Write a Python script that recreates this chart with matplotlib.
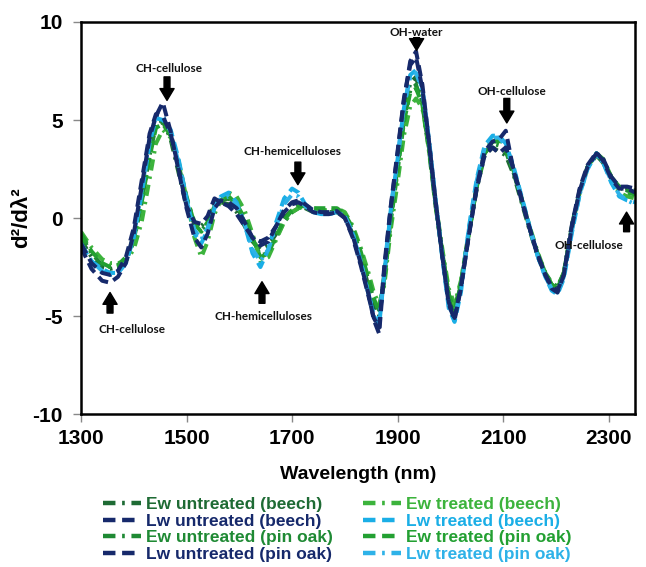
import matplotlib
matplotlib.use('Agg')
import matplotlib.pyplot as plt
from matplotlib.lines import Line2D

# wavelength grid (nm) shared by all spectra
wavelength = [1300, 1320, 1340, 1355, 1370, 1385, 1400, 1415, 1430, 1442,
              1455, 1470, 1485, 1500, 1515, 1528, 1540, 1553, 1565, 1580,
              1595, 1610, 1625, 1640, 1655, 1670, 1685, 1700, 1712, 1725,
              1740, 1755, 1770, 1785, 1800, 1815, 1830, 1845, 1855, 1865,
              1875, 1887, 1900, 1912, 1924, 1935, 1947, 1960, 1972, 1985,
              1997, 2008, 2020, 2035, 2050, 2065, 2080, 2092, 2105, 2120,
              2135, 2150, 2165, 2180, 2192, 2203, 2215, 2230, 2245, 2260,
              2277, 2290, 2305, 2320, 2335, 2350]

ew_untreated_beech = [
    -1.1, -2.0, -2.5, -2.6, -2.5, -2.1, -0.9, 1.2, 3.6, 4.9,
    5.0, 4.0, 2.3, 0.6, -0.3, -0.4, -0.1, 0.8, 0.8, 0.7,
    0.3, -0.4, -1.2, -1.6, -1.4, -0.8, 0.0, 0.4, 0.6, 0.5,
    0.3, 0.3, 0.3, 0.3, 0.0, -0.8, -2.0, -3.5, -4.5, -5.0,
    -2.8, 0.2, 2.8, 5.3, 6.9, 7.2, 5.9, 3.4, 0.6, -1.9,
    -4.1, -4.9, -3.4, -0.8, 1.5, 3.2, 3.6, 3.4, 3.2, 2.2,
    0.8, -0.6, -1.9, -2.9, -3.4, -3.6, -2.8, -0.4, 1.4, 2.6,
    3.2, 2.8, 2.0, 1.5, 1.5, 1.4]
lw_untreated_beech = [
    -1.5, -2.6, -3.2, -3.3, -3.0, -2.3, -0.8, 1.6, 4.1, 5.2,
    5.9, 4.4, 2.4, 0.5, -1.0, -1.5, -0.8, 0.5, 0.9, 0.8,
    0.5, -0.2, -1.0, -1.4, -1.2, -0.4, 0.4, 0.8, 0.9, 0.7,
    0.4, 0.3, 0.3, 0.35, 0.0, -0.9, -2.3, -3.9, -5.2, -5.9,
    -2.6, 0.5, 3.3, 6.0, 8.0, 8.5, 6.8, 3.8, 0.9, -2.0,
    -4.4, -5.2, -3.6, -0.9, 1.6, 3.4, 3.9, 4.0, 4.45, 2.4,
    0.9, -0.5, -1.8, -2.9, -3.6, -3.8, -2.9, -0.4, 1.5, 2.7,
    3.35, 2.9, 2.0, 1.5, 1.5, 1.3]
ew_untreated_pinoak = [
    -0.9, -1.8, -2.4, -2.5, -2.5, -2.2, -1.2, 0.8, 3.2, 4.7,
    4.9, 4.2, 2.7, 1.0, -0.2, -0.6, -0.3, 0.7, 0.9, 1.0,
    0.6, -0.2, -1.1, -1.9, -1.8, -1.0, -0.2, 0.3, 0.5, 0.6,
    0.5, 0.4, 0.4, 0.4, 0.1, -0.6, -1.8, -3.2, -4.2, -4.7,
    -3.0, 0.0, 2.6, 5.0, 6.5, 6.8, 5.8, 3.3, 0.6, -1.8,
    -3.9, -4.6, -3.3, -0.7, 1.6, 3.3, 3.8, 3.7, 3.4, 2.3,
    0.9, -0.5, -1.8, -2.8, -3.3, -3.5, -2.8, -0.5, 1.3, 2.6,
    3.2, 2.9, 2.1, 1.6, 1.4, 1.3]
lw_untreated_pinoak = [
    -1.3, -2.3, -2.8, -2.9, -2.7, -2.0, -0.5, 1.9, 4.3, 5.3,
    5.2, 4.3, 2.5, 0.6, -0.2, -0.3, 0.1, 1.0, 0.8, 0.6,
    0.2, -0.4, -1.0, -1.2, -1.0, -0.4, 0.3, 0.7, 0.8, 0.6,
    0.3, 0.2, 0.2, 0.3, 0.0, -1.0, -2.4, -4.0, -5.1, -5.6,
    -2.4, 0.6, 3.4, 6.1, 7.8, 8.2, 6.6, 3.7, 0.8, -2.0,
    -4.3, -5.1, -3.5, -0.9, 1.5, 3.2, 3.6, 3.3, 3.6, 2.5,
    1.0, -0.5, -1.9, -2.9, -3.5, -3.7, -2.9, -0.5, 1.4, 2.6,
    3.3, 3.0, 2.1, 1.6, 1.6, 1.5]
ew_treated_beech = [
    -0.7, -1.5, -2.1, -2.3, -2.3, -2.2, -1.6, -0.2, 2.0, 3.8,
    4.5, 4.1, 2.9, 1.0, -1.0, -2.0, -1.2, 0.2, 0.9, 1.3,
    1.1, 0.4, -0.8, -2.2, -2.0, -1.1, -0.2, 0.3, 0.5, 0.6,
    0.5, 0.4, 0.4, 0.5, 0.3, -0.4, -1.5, -2.8, -3.8, -4.4,
    -3.4, -0.6, 1.8, 4.2, 5.7, 6.1, 5.6, 3.5, 0.8, -1.6,
    -3.6, -4.4, -3.2, -0.8, 1.6, 3.4, 4.0, 4.1, 3.6, 2.5,
    1.0, -0.4, -1.7, -2.8, -3.4, -3.6, -2.8, -0.6, 1.3, 2.6,
    3.3, 2.9, 2.0, 1.3, 1.1, 1.0]
lw_treated_beech = [
    -1.4, -2.2, -2.6, -2.8, -2.8, -2.3, -1.0, 1.2, 3.8, 5.1,
    5.0, 4.5, 3.0, 1.0, -0.8, -1.3, -0.6, 0.5, 1.1, 1.3,
    0.8, -0.3, -1.8, -2.5, -1.6, -0.2, 1.0, 1.5, 1.3, 0.7,
    0.3, 0.2, 0.2, 0.3, 0.1, -0.8, -2.2, -3.9, -5.0, -5.5,
    -2.8, 0.4, 3.0, 5.6, 7.3, 7.55, 6.6, 3.9, 0.9, -2.1,
    -4.6, -5.3, -3.8, -0.5, 2.0, 3.7, 4.2, 4.2, 3.8, 2.6,
    1.1, -0.4, -1.9, -3.0, -3.7, -3.9, -3.1, -0.8, 1.2, 2.5,
    3.3, 2.8, 1.8, 1.1, 0.9, 0.8]
ew_treated_pinoak = [
    -0.8, -1.7, -2.3, -2.5, -2.4, -2.0, -1.1, 0.8, 3.1, 4.6,
    4.8, 4.2, 2.8, 1.1, -0.3, -0.7, -0.2, 0.6, 1.0, 1.1,
    0.7, 0.0, -1.0, -2.0, -1.8, -0.9, -0.1, 0.4, 0.6, 0.6,
    0.5, 0.5, 0.5, 0.5, 0.2, -0.5, -1.7, -3.1, -4.1, -4.8,
    -3.2, -0.2, 2.4, 4.9, 6.4, 6.6, 5.8, 3.5, 0.7, -1.8,
    -3.9, -4.7, -3.4, -0.8, 1.6, 3.3, 3.9, 3.9, 3.5, 2.4,
    1.0, -0.5, -1.8, -2.8, -3.4, -3.6, -2.8, -0.5, 1.3, 2.6,
    3.3, 3.0, 2.1, 1.6, 1.3, 1.2]
lw_treated_pinoak = [
    -1.3, -2.2, -2.7, -2.9, -2.8, -2.3, -0.9, 1.4, 4.0, 5.2,
    5.2, 4.4, 2.8, 0.9, -0.6, -1.1, -0.5, 0.6, 1.0, 1.1,
    0.7, -0.3, -1.6, -2.2, -1.6, -0.4, 0.7, 1.2, 1.1, 0.6,
    0.3, 0.2, 0.2, 0.3, 0.1, -0.8, -2.2, -3.9, -4.9, -5.3,
    -2.6, 0.5, 3.1, 5.7, 7.2, 7.4, 6.5, 3.8, 0.9, -2.0,
    -4.5, -5.1, -3.6, -0.6, 1.9, 3.6, 4.1, 4.1, 3.7, 2.5,
    1.0, -0.5, -1.9, -3.0, -3.6, -3.8, -3.0, -0.7, 1.2, 2.5,
    3.3, 2.8, 1.9, 1.2, 0.9, 0.7]

labels = ['Ew untreated (beech)', 'Lw untreated (beech)',
          'Ew untreated (pin oak)', 'Lw untreated (pin oak)',
          'Ew treated (beech)', 'Lw treated (beech)',
          'Ew treated (pin oak)', 'Lw treated (pin oak)']
spectra = [ew_untreated_beech, lw_untreated_beech,
           ew_untreated_pinoak, lw_untreated_pinoak,
           ew_treated_beech, lw_treated_beech,
           ew_treated_pinoak, lw_treated_pinoak]
colors = ['#1e6b34', '#16296b', '#1f8a34', '#16296b',
          '#3cb33c', '#1aaee6', '#23a032', '#2eb2e8']
DASH = (0, (2.8, 1.5))
DASHDOT = (0, (2.8, 1.5, 0.6, 1.5))
styles = [DASHDOT, DASH, DASHDOT, DASH, DASHDOT, DASH, DASH, DASHDOT]
draw_order = [0, 2, 4, 6, 5, 7, 3, 1]

# band annotations: (text, arrow x, tail y, tip y, label x, label y)
bands = [
    ('CH-cellulose', 1463, 7.2, 6.0, 1467, 7.65),
    ('OH-water', 1936, 9.2, 8.55, 1936, 9.45),
    ('OH-cellulose', 2107, 6.1, 4.85, 2117, 6.45),
    ('CH-hemicelluloses', 1711, 2.85, 1.7, 1700, 3.4),
    ('CH-hemicelluloses', 1643, -4.35, -3.25, 1645, -5.05),
    ('CH-cellulose', 1355, -4.85, -3.8, 1397, -5.7),
    ('OH-cellulose', 2334, -0.7, 0.3, 2262, -1.4),
]

plt.rcParams['font.family'] = ['Liberation Sans', 'DejaVu Sans']
plt.rcParams['axes.unicode_minus'] = False

fig = plt.figure(figsize=(6.46, 5.67), dpi=100)
ax = fig.add_axes([0.1254, 0.2698, 0.8576, 0.6914])

for i in draw_order:
    ax.plot(wavelength, spectra[i], color=colors[i], lw=2.9,
            linestyle=styles[i], label=labels[i])

for txt, ax_x, y0, y1, lx, ly in bands:
    ax.annotate('', xy=(ax_x, y1), xytext=(ax_x, y0),
                arrowprops=dict(arrowstyle='simple,head_length=0.5,head_width=0.6,tail_width=0.25',
                                color='black', shrinkA=0, shrinkB=0,
                                mutation_scale=17))
    ax.text(lx, ly, txt, ha='center', va='center', fontsize=8.5,
            fontweight='bold', family=['Lato', 'DejaVu Sans'], color='#111111')

ax.set_xlim(1300, 2350)
ax.set_ylim(-10, 10)
ax.set_xticks([1300, 1500, 1700, 1900, 2100, 2300])
ax.set_yticks([-10, -5, 0, 5, 10])
for s in ax.spines.values():
    s.set_linewidth(1.8)
ax.tick_params(axis='both', direction='out', length=6, width=1,
               color='#888888', labelsize=15)
ax.tick_params(axis='y', pad=7)
ax.tick_params(axis='x', pad=5)
for t in ax.get_xticklabels() + ax.get_yticklabels():
    t.set_fontweight('bold')

ax.set_xlabel('Wavelength (nm)', fontsize=14, fontweight='bold', labelpad=13)
ax.set_ylabel('d²/dλ²', fontsize=16, fontweight='bold')
ax.yaxis.set_label_coords(-0.088, 0.5)

handles = [Line2D([], [], color=colors[i], lw=3.2, linestyle=styles[i])
           for i in range(8)]
leg = fig.legend(handles, labels, ncol=2, loc='center',
                 bbox_to_anchor=(0.522, 0.066), frameon=False,
                 prop={'weight': 'bold', 'size': 12.5},
                 labelcolor=colors, handlelength=2.2, handletextpad=0.25,
                 labelspacing=0.08, columnspacing=1.75, borderpad=0.1)

fig.savefig('out.png', dpi=100)
